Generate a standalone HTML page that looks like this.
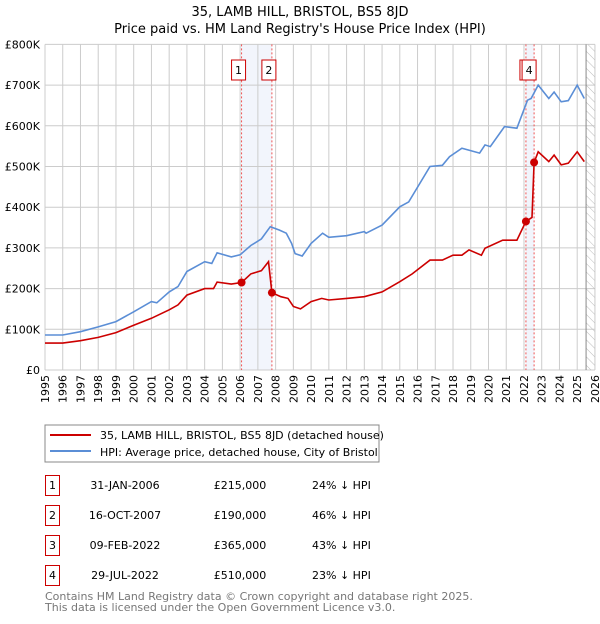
<!DOCTYPE html>
<html><head><meta charset="utf-8"><style>
body{margin:0;background:#fff;font-family:"DejaVu Sans","Liberation Sans",sans-serif}
svg text{font-family:"DejaVu Sans","Liberation Sans",sans-serif}
</style></head><body>
<svg id="c" width="600" height="620" xmlns="http://www.w3.org/2000/svg">
<text x="300" y="16" text-anchor="middle" font-size="13">35, LAMB HILL, BRISTOL, BS5 8JD</text>
<text x="300" y="33" text-anchor="middle" font-size="13">Price paid vs. HM Land Registry's House Price Index (HPI)</text>
<defs><pattern id="hatch" width="6" height="6" patternUnits="userSpaceOnUse" patternTransform="rotate(-45)"><line x1="0" y1="0" x2="0" y2="6" stroke="#bbb" stroke-width="1"/></pattern></defs>
<g id="grid"></g><g id="marks"></g>
<rect x="45" y="425" width="334" height="37" fill="#fff" stroke="#888"/>
<line x1="50" y1="435" x2="91" y2="435" stroke="#cc0000" stroke-width="2"/>
<text x="100" y="439" font-size="11">35, LAMB HILL, BRISTOL, BS5 8JD (detached house)</text>
<line x1="50" y1="451" x2="91" y2="451" stroke="#5b8ed6" stroke-width="2"/>
<text x="100" y="456" font-size="11">HPI: Average price, detached house, City of Bristol</text>
<g id="table" font-size="11"></g>
<text x="45" y="600" font-size="11" fill="#777">Contains HM Land Registry data © Crown copyright and database right 2025.</text>
<text x="45" y="611" font-size="11" fill="#777">This data is licensed under the Open Government Licence v3.0.</text>
</svg>
<script>
const hpiYears=[1995,1996,1997,1998,1999,2000,2001,2001.3,2002,2002.5,2003,2004,2004.4,2004.7,2005.5,2006,2006.6,2007.2,2007.7,2008.2,2008.6,2008.9,2009.1,2009.5,2010,2010.65,2011,2012,2013,2013.1,2014,2015,2015.5,2016.7,2017.4,2017.8,2018.5,2019.5,2019.8,2020.1,2020.9,2021.6,2022.2,2022.4,2022.8,2023.4,2023.7,2024.1,2024.5,2025,2025.4];
const hpiValues=[86,86,94,106,119,143,168,165,192,205,242,266,262,288,278,283,306,322,352,344,336,311,286,280,311,336,326,330,340,336,356,401,413,500,503,524,545,533,553,549,598,594,663,667,700,667,683,659,662,700,667];
const priceYears=[1995,1996,1997,1998,1999,2000,2001,2002,2002.5,2003,2004,2004.5,2004.7,2005.5,2006.08,2006.6,2007.2,2007.6,2007.79,2008.3,2008.7,2009.0,2009.4,2010,2010.6,2011,2012,2013,2014,2015,2015.7,2016.7,2017.4,2018,2018.5,2018.9,2019.6,2019.8,2020.8,2021.6,2022.11,2022.45,2022.57,2022.8,2023.4,2023.7,2024.1,2024.5,2025,2025.4];
const priceValues=[66,66,72,80,92,110,127,148,160,184,200,200,216,211,215,236,244,266,190,180,176,156,150,168,176,172,176,180,192,217,236,270,270,282,282,295,282,299,319,319,365,375,510,536,512,528,504,508,536,512];
const saleYears=[2006.08,2007.79,2022.11,2022.57];
const saleValues=[215,190,365,510];
const saleLabels=["1","2","3","4"];
const saleDates=["31-JAN-2006","16-OCT-2007","09-FEB-2022","29-JUL-2022"];
const salePrices=["£215,000","£190,000","£365,000","£510,000"];
const saleDiffs=["24% ↓ HPI","46% ↓ HPI","43% ↓ HPI","23% ↓ HPI"];
const yTicks=[0,100,200,300,400,500,600,700,800];
const yTickLabels=["£0","£100K","£200K","£300K","£400K","£500K","£600K","£700K","£800K"];
const xTicks=[1995,1996,1997,1998,1999,2000,2001,2002,2003,2004,2005,2006,2007,2008,2009,2010,2011,2012,2013,2014,2015,2016,2017,2018,2019,2020,2021,2022,2023,2024,2025,2026];
const NS="http://www.w3.org/2000/svg";
const X=y=>45+(y-1995)*17.74, Y=v=>370-v*0.407;
function mk(t,a,p){const e=document.createElementNS(NS,t);for(const k in a)e.setAttribute(k,a[k]);p.appendChild(e);return e;}
const g=document.getElementById('grid'), m=document.getElementById('marks'), tb=document.getElementById('table');
for(let k=0;k<2;k++){const a=X(saleYears[2*k]),b=X(saleYears[2*k+1]);
 const r=mk('rect',{x:a,y:Y(800),width:b-a,height:370-Y(800),fill:'#f2f5fc'},g);
 
 }
for(let i=0;i<xTicks.length;i++){const x=X(xTicks[i]);
 const l=mk('line',{x1:x,y1:Y(800),x2:x,y2:370,stroke:'#ccc'},g);
 
 
 const t=mk('text',{x:0,y:0,'font-size':11,'text-anchor':'end',transform:`translate(${x+4},375) rotate(-90)`},g);t.textContent=xTicks[i];
 
 }
for(let i=0;i<yTicks.length;i++){const y=Y(yTicks[i]);
 const l=mk('line',{x1:45,y1:y,x2:595,y2:y,stroke:'#ccc'},g);
 
 
 const t=mk('text',{x:40,y:y+4,'font-size':11,'text-anchor':'end'},g);t.textContent=yTickLabels[i];
 
 }
const h=mk('rect',{x:X(2025.5),y:Y(800),width:595-X(2025.5),height:370-Y(800),fill:'url(#hatch)'},g);


mk('line',{x1:X(2025.5),y1:Y(800),x2:X(2025.5),y2:370,stroke:'#888'},g);
for(let i=0;i<saleYears.length;i++){const x=X(saleYears[i]);
 const l=mk('line',{x1:x,y1:Y(800),x2:x,y2:370,stroke:'#e55','stroke-dasharray':'2,2'},m);
 
 }
function path(xs,vs,c,n){const d=xs.map((x,i)=>(i?'L':'M')+X(x).toFixed(1)+','+Y(vs[i]).toFixed(1)).join('');
 const p=mk('path',{d:d,fill:'none',stroke:c,'stroke-width':1.6},m);
 
 }
path(hpiYears,hpiValues,'#5b8ed6','hpi-line');
path(priceYears,priceValues,'#cc0000','price-line');
for(let i=0;i<saleYears.length;i++){
 const c=mk('circle',{cx:X(saleYears[i]),cy:Y(saleValues[i]),r:4,fill:'#cc0000'},m);
 
 
 const bx=X(saleYears[i])-(i==2?6:(i==3?12:10));
 const r=mk('rect',{x:bx,y:60,width:14,height:20,fill:'#fff',stroke:'#cc0000'},m);
 
 
 const t=mk('text',{x:bx+7,y:74,'font-size':11,'text-anchor':'middle'},m);t.textContent=saleLabels[i];
 
 
 const y0=475+i*30;
 const rb=mk('rect',{x:45.5,y:y0+0.5,width:14,height:20,fill:'#fff',stroke:'#cc0000'},tb);
 
 
 const tn=mk('text',{x:52.5,y:y0+14,'text-anchor':'middle'},tb);tn.textContent=saleLabels[i];
 const td=mk('text',{x:125,y:y0+14,'text-anchor':'middle'},tb);td.textContent=saleDates[i];
 
 
 const tp=mk('text',{x:240,y:y0+14,'text-anchor':'middle'},tb);tp.textContent=salePrices[i];
 
 
 const tf=mk('text',{x:312,y:y0+14},tb);tf.textContent=saleDiffs[i];
 
 }
</script>
</body></html>
